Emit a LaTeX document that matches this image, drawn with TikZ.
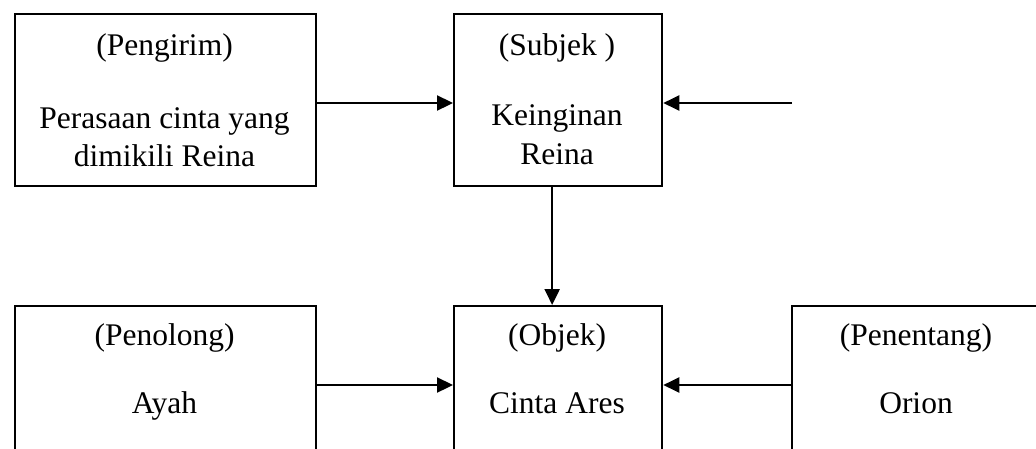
\documentclass[tikz,border=0pt]{standalone}
\usepackage{fontspec}
\setmainfont{Liberation Serif}
\usetikzlibrary{arrows.meta}
\begin{document}
\begin{tikzpicture}[x=1pt,y=-1pt,
  box/.style={draw, line width=2.3pt, inner sep=0pt, anchor=north west},
  lbl/.style={anchor=base, inner sep=0pt, font=\fontsize{31.5}{38}\selectfont},
  link/.style={line width=2.3pt, -{Triangle[length=16pt,width=15pt]}}]
\useasboundingbox (0,0) rectangle (1036,448);
\clip (0,0) rectangle (1036,448);
% boxes
\node[box, minimum width=301pt, minimum height=172pt] (send) at (14,13) {};
\node[box, minimum width=208pt, minimum height=172pt] (subj) at (453,13) {};
\node[box, minimum width=301pt, minimum height=200pt] (help) at (14,305) {};
\node[box, minimum width=208pt, minimum height=200pt] (obj) at (453,305) {};
\node[box, minimum width=250pt, minimum height=200pt] (opp) at (791,305) {};
% labels
\node[lbl] (t1a) at (164.5,55) {(Pengirim)};
\node[lbl] (t1b) at (164.5,128) {Perasaan cinta yang};
\node[lbl] (t1c) at (164.5,166) {dimikili Reina};
\node[lbl] (t2a) at (557,55) {(Subjek )};
\node[lbl] (t2b) at (557,125) {Keinginan};
\node[lbl] (t2c) at (557,164) {Reina};
\node[lbl] (t3a) at (164.5,345) {(Penolong)};
\node[lbl] (t3b) at (164.5,413) {Ayah};
\node[lbl] (t4a) at (557,345) {(Objek)};
\node[lbl] (t4b) at (557,413) {Cinta Ares};
\node[lbl] (t5a) at (916,345) {(Penentang)};
\node[lbl] (t5b) at (916,413) {Orion};
% connectors
\coordinate (yt) at (0,103);
\coordinate (yb) at (0,385);
\coordinate (free) at (792,103);
\draw[link] (send.east |- yt) -- (subj.west |- yt);
\draw[link] (free) -- (subj.east |- yt);
\draw[link] ([xshift=-6pt]subj.south) -- ([xshift=-6pt]obj.north);
\draw[link] (help.east |- yb) -- (obj.west |- yb);
\draw[link] (opp.west |- yb) -- (obj.east |- yb);
\end{tikzpicture}
\end{document}
